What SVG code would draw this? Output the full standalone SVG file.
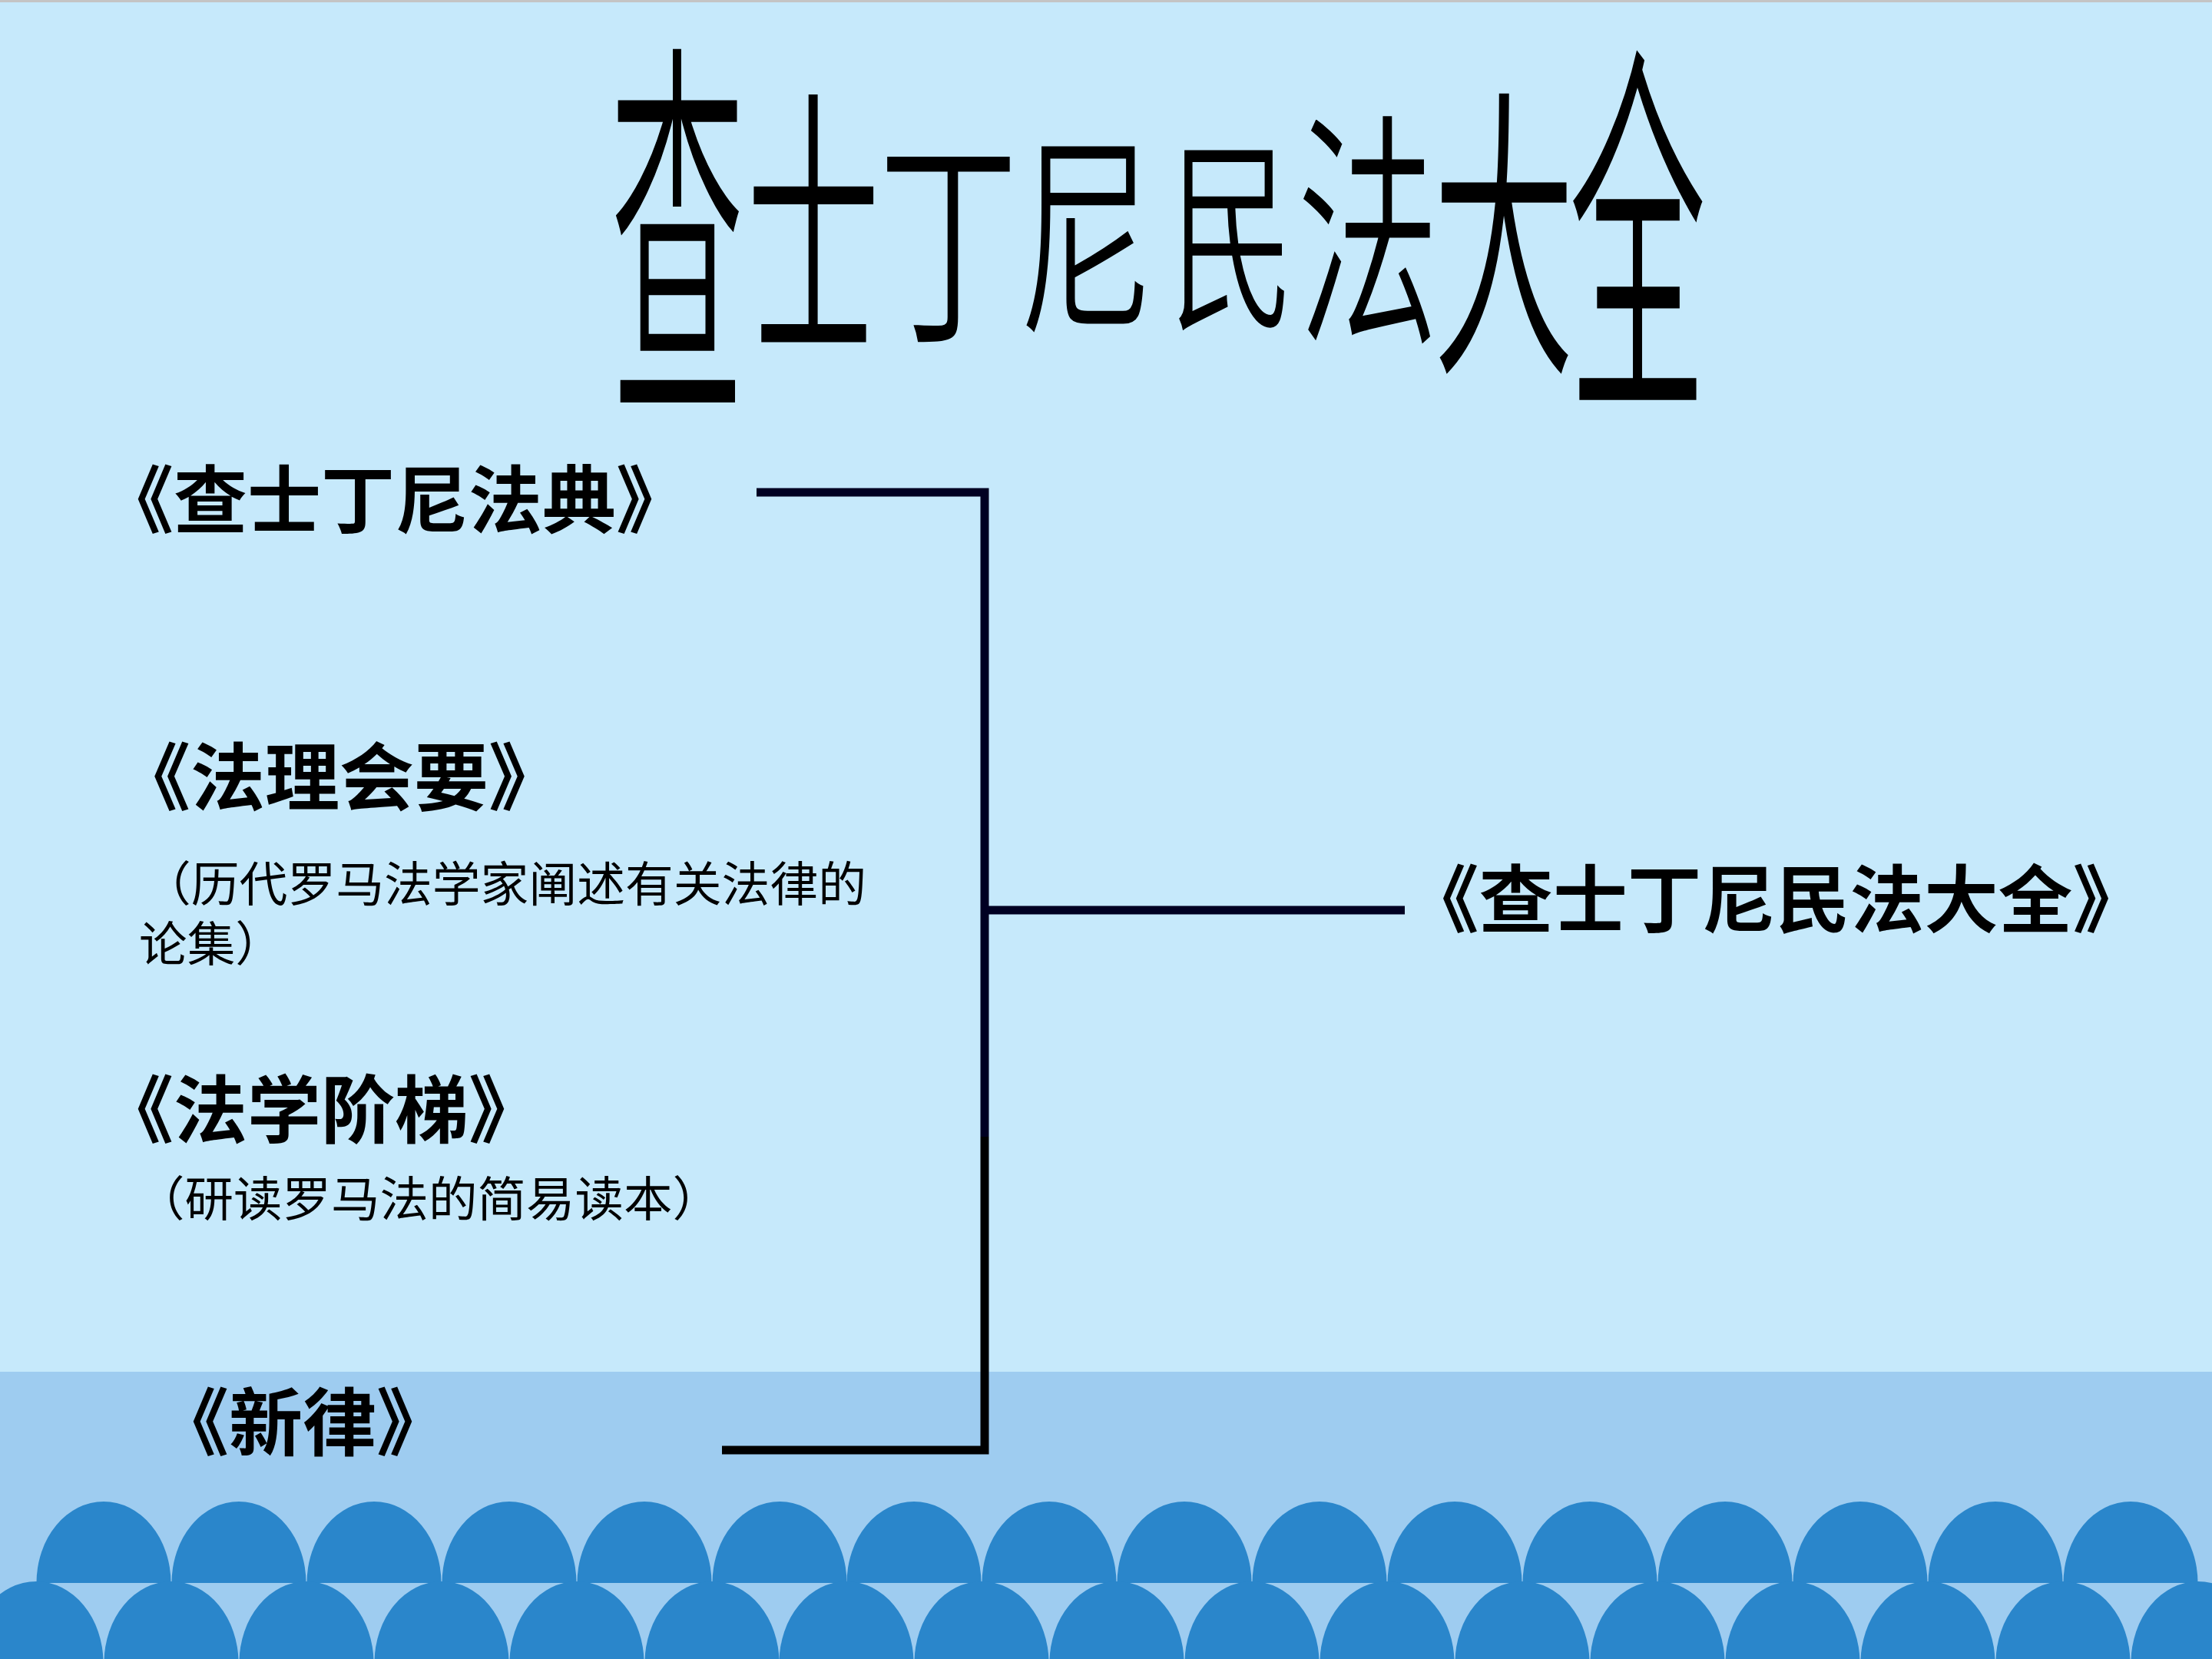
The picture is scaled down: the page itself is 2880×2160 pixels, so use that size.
<svg xmlns="http://www.w3.org/2000/svg" xmlns:xlink="http://www.w3.org/1999/xlink" width="2880" height="2160" viewBox="0 0 2880 2160">
<style>
.t{font-family:"Noto Sans CJK SC","Noto Sans CJK TC",sans-serif;fill:#000}
.title{font-weight:400;text-anchor:middle;stroke:#C6E9FB;stroke-width:2.2px;paint-order:normal}
.lab{font-size:96px;font-weight:700}
.sub{font-size:62px;font-weight:400}
.ln{stroke:#000022;stroke-width:11;fill:none;stroke-linecap:butt}
.wave{fill:#2A86CB}
</style>
<defs>
<path id="arch" d="M-87.5 0 A87.5 106 0 0 1 87.5 0 Z"/>
</defs>
<g id="background">
<rect x="0" y="0" width="2880" height="2160" fill="#C6E9FB"/>
<rect x="0" y="0" width="2880" height="3" fill="#C4C4C4"/>
<rect x="0" y="1786" width="2880" height="374" fill="#9ECCF0"/>
</g>
<g id="waves" class="wave">
<use xlink:href="#arch" x="135" y="2061"/><use xlink:href="#arch" x="311" y="2061"/><use xlink:href="#arch" x="487" y="2061"/><use xlink:href="#arch" x="663" y="2061"/>
<use xlink:href="#arch" x="839" y="2061"/><use xlink:href="#arch" x="1015" y="2061"/><use xlink:href="#arch" x="1190" y="2061"/><use xlink:href="#arch" x="1366" y="2061"/>
<use xlink:href="#arch" x="1542" y="2061"/><use xlink:href="#arch" x="1718" y="2061"/><use xlink:href="#arch" x="1894" y="2061"/><use xlink:href="#arch" x="2070" y="2061"/>
<use xlink:href="#arch" x="2246" y="2061"/><use xlink:href="#arch" x="2422" y="2061"/><use xlink:href="#arch" x="2598" y="2061"/><use xlink:href="#arch" x="2774" y="2061"/>
<use xlink:href="#arch" x="47" y="2165"/><use xlink:href="#arch" x="223" y="2165"/><use xlink:href="#arch" x="399" y="2165"/><use xlink:href="#arch" x="575" y="2165"/>
<use xlink:href="#arch" x="751" y="2165"/><use xlink:href="#arch" x="927" y="2165"/><use xlink:href="#arch" x="1102" y="2165"/><use xlink:href="#arch" x="1278" y="2165"/>
<use xlink:href="#arch" x="1454" y="2165"/><use xlink:href="#arch" x="1630" y="2165"/><use xlink:href="#arch" x="1806" y="2165"/><use xlink:href="#arch" x="1982" y="2165"/>
<use xlink:href="#arch" x="2158" y="2165"/><use xlink:href="#arch" x="2334" y="2165"/><use xlink:href="#arch" x="2510" y="2165"/><use xlink:href="#arch" x="2686" y="2165"/>
<use xlink:href="#arch" x="2862" y="2165"/>
</g>
<g id="title" class="t title">
<text transform="translate(882,303) scale(1,2.97)" y="67" font-size="177">查</text>
<text transform="translate(1059,294) scale(1,2.16)" y="67" font-size="176">士</text>
<text transform="translate(1235,312) scale(1,1.625)" y="70" font-size="184">丁</text>
<text transform="translate(1414,305) scale(1,1.58)" y="68" font-size="179">尼</text>
<text transform="translate(1604,306) scale(1,1.67)" y="62" font-size="164">民</text>
<text transform="translate(1781,300) scale(1,1.75)" y="71" font-size="187">法</text>
<text transform="translate(1958,305) scale(1,2.16)" y="71" font-size="187">大</text>
<text transform="translate(2132,302) scale(1,2.83)" y="69" font-size="181">全</text>
</g>
<g id="connectors">
<polyline class="ln" points="985,641 1282,641 1282,1480"/>
<polyline class="ln" points="1282,1480 1282,1888 940,1888" style="stroke:#000"/>
<line class="ln" x1="1282" y1="1185" x2="1829" y2="1185"/>
</g>
<g id="node-code">
<text class="t lab" x="130" y="686" textLength="768" lengthAdjust="spacingAndGlyphs">《查士丁尼法典》</text>
</g>
<g id="node-digest">
<text class="t lab" x="151" y="1047" textLength="582" lengthAdjust="spacingAndGlyphs">《法理会要》</text>
<text class="t sub"><tspan x="186" y="1174" textLength="942" lengthAdjust="spacingAndGlyphs">（历代罗马法学家阐述有关法律的</tspan><tspan x="181" y="1252" textLength="188" lengthAdjust="spacingAndGlyphs">论集）</tspan></text>
</g>
<g id="node-institutes">
<text class="t lab" x="130" y="1480" textLength="576" lengthAdjust="spacingAndGlyphs">《法学阶梯》</text>
<text class="t sub" x="177" y="1584" textLength="762" lengthAdjust="spacingAndGlyphs">（研读罗马法的简易读本）</text>
</g>
<g id="node-novels">
<text class="t lab" x="202" y="1887" textLength="384" lengthAdjust="spacingAndGlyphs">《新律》</text>
</g>
<g id="node-corpus">
<text class="t lab" x="1829" y="1206" textLength="966" lengthAdjust="spacingAndGlyphs">《查士丁尼民法大全》</text>
</g>
</svg>
